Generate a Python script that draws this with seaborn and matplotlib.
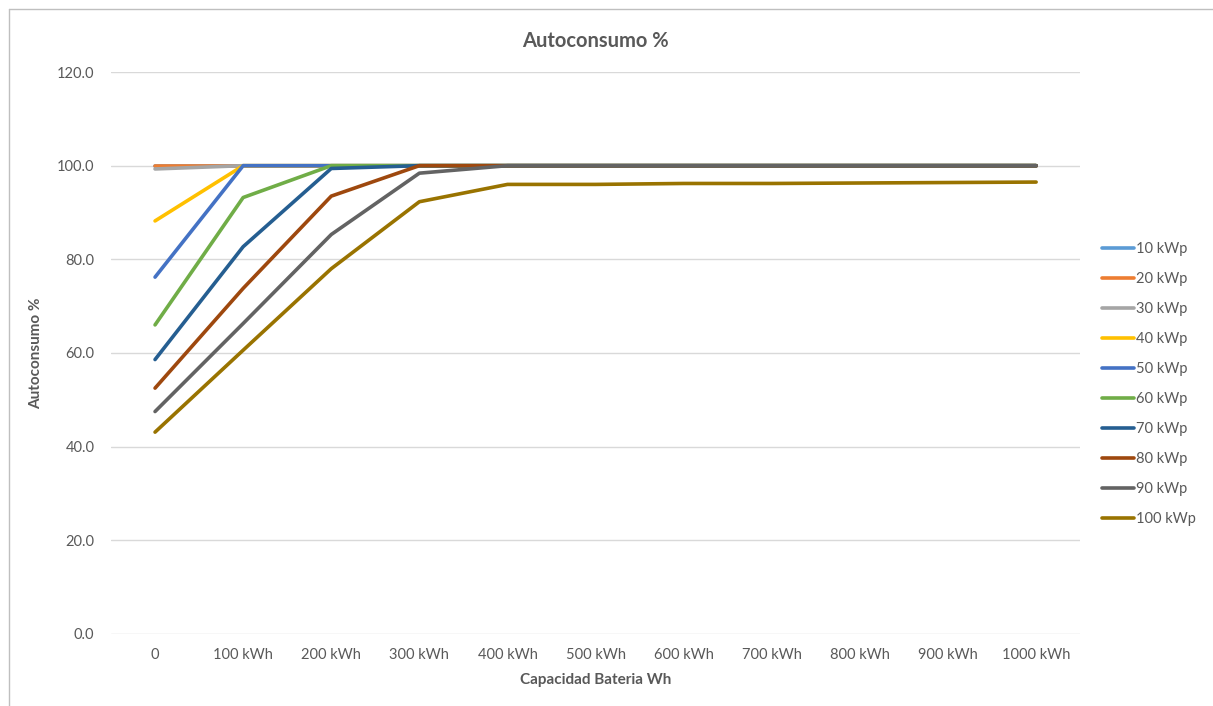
import matplotlib
matplotlib.use("Agg")
import matplotlib.pyplot as plt
from matplotlib.lines import Line2D
import seaborn as sns
import pandas as pd

# Battery capacities on the x axis
capacidades = ["0", "100 kWh", "200 kWh", "300 kWh", "400 kWh", "500 kWh",
               "600 kWh", "700 kWh", "800 kWh", "900 kWh", "1000 kWh"]

# Self-consumption (%) per PV size
kwp_10 = [100.0, 100.0, 100.0, 100.0, 100.0, 100.0, 100.0, 100.0, 100.0, 100.0, 100.0]
kwp_20 = [100.0, 100.0, 100.0, 100.0, 100.0, 100.0, 100.0, 100.0, 100.0, 100.0, 100.0]
kwp_30 = [99.3, 100.0, 100.0, 100.0, 100.0, 100.0, 100.0, 100.0, 100.0, 100.0, 100.0]
kwp_40 = [88.2, 100.0, 100.0, 100.0, 100.0, 100.0, 100.0, 100.0, 100.0, 100.0, 100.0]
kwp_50 = [76.2, 100.0, 100.0, 100.0, 100.0, 100.0, 100.0, 100.0, 100.0, 100.0, 100.0]
kwp_60 = [66.0, 93.2, 100.0, 100.0, 100.0, 100.0, 100.0, 100.0, 100.0, 100.0, 100.0]
kwp_70 = [58.6, 82.7, 99.4, 100.0, 100.0, 100.0, 100.0, 100.0, 100.0, 100.0, 100.0]
kwp_80 = [52.5, 73.8, 93.5, 100.0, 100.0, 100.0, 100.0, 100.0, 100.0, 100.0, 100.0]
kwp_90 = [47.5, 66.3, 85.3, 98.4, 100.0, 100.0, 100.0, 100.0, 100.0, 100.0, 100.0]
kwp_100 = [43.1, 60.6, 78.0, 92.3, 96.0, 96.0, 96.2, 96.2, 96.3, 96.4, 96.5]

series_names = ["10 kWp", "20 kWp", "30 kWp", "40 kWp", "50 kWp",
                "60 kWp", "70 kWp", "80 kWp", "90 kWp", "100 kWp"]
series_values = [kwp_10, kwp_20, kwp_30, kwp_40, kwp_50,
                 kwp_60, kwp_70, kwp_80, kwp_90, kwp_100]
colores = ["#5B9BD5", "#ED7D31", "#A5A5A5", "#FFC000", "#4472C4",
           "#70AD47", "#255E91", "#9E480E", "#636363", "#997300"]

rows = []
for name, vals in zip(series_names, series_values):
    for i, (cap, v) in enumerate(zip(capacidades, vals)):
        rows.append({"pos": i, "Capacidad": cap, "Serie": name, "Autoconsumo": v})
df = pd.DataFrame(rows)

sns.set_theme(style="white")
plt.rcParams["font.family"] = ["Lato", "DejaVu Sans"]

fig = plt.figure(figsize=(12.13, 7.06), dpi=100)
ax = fig.add_axes([0.0915, 0.102, 0.799, 0.796])

sns.lineplot(data=df, x="pos", y="Autoconsumo", hue="Serie",
             hue_order=series_names, palette=colores, linewidth=2.6,
             legend=False, ax=ax, sort=False)

ax.set_xlim(-0.5, len(capacidades) - 0.5)
ax.set_ylim(0, 120)
ax.set_yticks(range(0, 121, 20))
ax.set_yticklabels([f"{v:.1f}" for v in range(0, 121, 20)])
ax.set_xticks(range(len(capacidades)))
ax.set_xticklabels(capacidades)
ax.grid(axis="y", color="#D9D9D9", linewidth=1.0)
ax.set_axisbelow(True)
for s in ax.spines.values():
    s.set_visible(False)
ax.tick_params(axis="both", length=0, colors="#595959", labelsize=10.5)
ax.tick_params(axis="y", pad=12)
ax.tick_params(axis="x", pad=10)

ax.set_xlabel("Capacidad Bateria Wh", fontsize=11, fontweight="bold",
              color="#595959", labelpad=8)
ax.set_ylabel("Autoconsumo %", fontsize=11, fontweight="bold",
              color="#595959", labelpad=10)
ax.set_title("Autoconsumo %", fontsize=14.5, fontweight="bold",
             color="#595959", pad=18)

handles = [Line2D([0], [0], color=c, linewidth=2.6) for c in colores]
leg = fig.legend(handles, series_names, loc="upper left",
                 bbox_to_anchor=(0.898, 0.676), frameon=False,
                 fontsize=10.5, handlelength=2.2, handletextpad=0.1,
                 labelspacing=1.1)
for t in leg.get_texts():
    t.set_color("#595959")

# Chart frame edges
fig.add_artist(Line2D([0.0075, 0.0075], [0.0, 0.987], color="#BFBFBF",
                      linewidth=1.0, transform=fig.transFigure))
fig.add_artist(Line2D([0.0075, 1.0], [0.987, 0.987], color="#BFBFBF",
                      linewidth=1.0, transform=fig.transFigure))

fig.savefig("out.png", dpi=100, facecolor="white")
